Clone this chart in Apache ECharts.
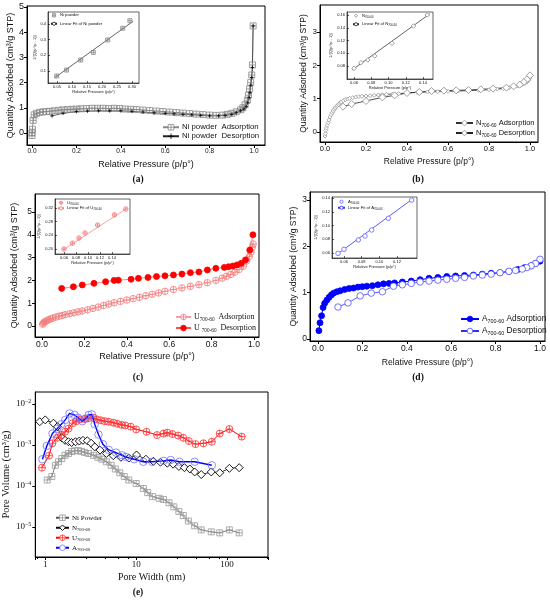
<!DOCTYPE html>
<html>
<head>
<meta charset="utf-8">
<script src="https://cdn.jsdelivr.net/npm/echarts@6/dist/echarts.min.js"></script>
<style>
  html, body { margin: 0; padding: 0; background: #fff; }
  #main { width: 550px; height: 602px; }
</style>
</head>
<body>
<div id="main"></div>
<script>
// ---- data ----
// (a) Ni powder isotherm [p/p0, Q]
var niAds = [[0.0,-0.1],[0.0,0.0],[0.002,0.15],[0.005,0.5],[0.01,0.72],[0.02,0.78],[0.035,0.82],[0.05,0.84],[0.065,0.85],[0.08,0.86],[0.1,0.88],[0.12,0.9],[0.14,0.92],[0.16,0.93],[0.18,0.94],[0.2,0.95],[0.22,0.96],[0.245,0.97],[0.27,0.98],[0.295,0.98],[0.32,0.98],[0.345,0.97],[0.37,0.98],[0.395,0.97],[0.42,0.95],[0.445,0.94],[0.47,0.93],[0.5,0.91],[0.53,0.89],[0.56,0.87],[0.59,0.85],[0.62,0.83],[0.65,0.81],[0.68,0.79],[0.71,0.77],[0.74,0.75],[0.77,0.73],[0.8,0.71],[0.83,0.7],[0.86,0.71],[0.88,0.74],[0.9,0.78],[0.92,0.84],[0.94,0.92],[0.95,1.0],[0.96,1.12],[0.97,1.3],[0.975,1.5],[0.98,1.75],[0.985,2.0],[0.99,2.3],[0.993,2.7],[0.996,4.25]];
var niDes = [[0.996,4.25],[0.993,2.6],[0.99,2.2],[0.986,1.9],[0.982,1.6],[0.978,1.4],[0.972,1.2],[0.965,1.05],[0.955,0.95],[0.94,0.88],[0.92,0.8],[0.9,0.74],[0.87,0.7],[0.84,0.68],[0.8,0.68],[0.76,0.7],[0.72,0.72],[0.68,0.74],[0.64,0.76],[0.6,0.78],[0.55,0.8],[0.5,0.83],[0.45,0.86],[0.4,0.88],[0.35,0.88],[0.3,0.88],[0.25,0.87],[0.2,0.85],[0.14,0.78],[0.09,0.68]];
var niBet = [[0.049,0.068],[0.082,0.106],[0.129,0.17],[0.171,0.219],[0.219,0.298],[0.269,0.373],[0.293,0.421]];
var niFit = [[0.043,0.058],[0.304,0.418]];

// (b) N700-60
var nAds = [[0.0,-0.12],[0.002,-0.05],[0.004,0.05],[0.007,0.12],[0.01,0.2],[0.015,0.28],[0.02,0.36],[0.025,0.45],[0.03,0.52],[0.035,0.58],[0.04,0.63],[0.045,0.68],[0.05,0.72],[0.055,0.76],[0.06,0.79],[0.065,0.82],[0.07,0.85],[0.075,0.88],[0.08,0.9],[0.09,0.94],[0.1,0.97],[0.11,0.99],[0.12,1.01],[0.135,1.03],[0.15,1.05],[0.165,1.06],[0.18,1.07],[0.2,1.08],[0.22,1.09],[0.24,1.1],[0.26,1.11],[0.28,1.12],[0.3,1.13],[0.33,1.14],[0.36,1.15],[0.4,1.17],[0.45,1.19],[0.5,1.2],[0.55,1.21],[0.6,1.22],[0.65,1.23],[0.7,1.24],[0.75,1.25],[0.8,1.27],[0.84,1.29],[0.87,1.3],[0.9,1.33],[0.92,1.35],[0.94,1.38],[0.96,1.42],[0.975,1.46],[0.985,1.5],[0.993,1.55],[1.0,1.62]];
var nDes = [[1.0,1.7],[0.985,1.58],[0.97,1.5],[0.95,1.42],[0.92,1.37],[0.885,1.33],[0.82,1.3],[0.76,1.28],[0.7,1.26],[0.64,1.25],[0.58,1.24],[0.52,1.23],[0.46,1.2],[0.4,1.17],[0.34,1.1],[0.28,1.04],[0.2,0.93],[0.13,0.84],[0.088,0.76]];
var nBet = [[0.06,0.0764],[0.068,0.0852],[0.076,0.0894],[0.084,0.0957],[0.104,0.1156],[0.129,0.1427],[0.145,0.16]];
var nFit = [[0.058,0.074],[0.148,0.162]];

// (c) U700-60
var uAds = [[0.003,0.08],[0.007,0.13],[0.012,0.18],[0.02,0.22],[0.03,0.27],[0.04,0.31],[0.05,0.34],[0.065,0.39],[0.08,0.43],[0.095,0.46],[0.11,0.5],[0.13,0.54],[0.15,0.58],[0.17,0.62],[0.19,0.66],[0.215,0.71],[0.24,0.77],[0.265,0.83],[0.29,0.9],[0.315,0.96],[0.34,1.02],[0.37,1.08],[0.4,1.14],[0.43,1.2],[0.46,1.26],[0.49,1.33],[0.52,1.39],[0.55,1.45],[0.58,1.52],[0.62,1.6],[0.66,1.67],[0.7,1.74],[0.74,1.81],[0.78,1.9],[0.82,2.0],[0.85,2.1],[0.87,2.18],[0.89,2.26],[0.91,2.36],[0.93,2.48],[0.95,2.62],[0.965,2.85],[0.978,3.05],[0.986,3.25],[0.992,3.45],[0.996,3.6]];
var uDes = [[0.995,4.0],[0.98,3.33],[0.96,2.9],[0.94,2.75],[0.92,2.68],[0.9,2.63],[0.88,2.6],[0.86,2.57],[0.82,2.53],[0.78,2.46],[0.74,2.37],[0.7,2.34],[0.66,2.28],[0.62,2.24],[0.58,2.2],[0.54,2.17],[0.5,2.13],[0.455,2.09],[0.42,2.05],[0.36,2.01],[0.34,2.0],[0.3,1.94],[0.245,1.87],[0.19,1.8],[0.148,1.72],[0.093,1.65]];
var uBet = [[0.06,0.2],[0.074,0.217],[0.085,0.232],[0.095,0.247],[0.116,0.27],[0.144,0.3],[0.163,0.317]];
var uFit = [[0.058,0.197],[0.164,0.318]];

// (d) A700-60
var aAds = [[0.004,0.18],[0.009,0.35],[0.016,0.5],[0.023,0.68],[0.03,0.77],[0.04,0.84],[0.05,0.9],[0.06,0.95],[0.07,0.99],[0.085,1.02],[0.1,1.04],[0.12,1.07],[0.14,1.09],[0.16,1.1],[0.18,1.12],[0.2,1.13],[0.22,1.14],[0.245,1.15],[0.27,1.17],[0.295,1.19],[0.32,1.2],[0.345,1.21],[0.38,1.23],[0.42,1.25],[0.46,1.28],[0.5,1.31],[0.54,1.33],[0.58,1.35],[0.62,1.36],[0.66,1.37],[0.7,1.38],[0.74,1.4],[0.78,1.42],[0.82,1.43],[0.86,1.46],[0.9,1.5],[0.93,1.54],[0.96,1.58],[0.98,1.63],[1.0,1.68]];
var aDes = [[1.0,1.72],[0.98,1.63],[0.96,1.58],[0.94,1.54],[0.92,1.51],[0.89,1.48],[0.86,1.46],[0.82,1.43],[0.78,1.4],[0.74,1.38],[0.7,1.36],[0.66,1.33],[0.62,1.31],[0.58,1.29],[0.54,1.27],[0.5,1.25],[0.46,1.23],[0.42,1.2],[0.38,1.17],[0.34,1.14],[0.29,1.02],[0.24,0.99],[0.19,0.93],[0.135,0.78],[0.09,0.69]];
var aBet = [[0.0532,0.0595],[0.06,0.0654],[0.0762,0.079],[0.0838,0.0847],[0.0913,0.0935],[0.1102,0.1105],[0.1366,0.137]];
var aFit = [[0.052,0.058],[0.137,0.138]];

// (e) pore size distribution [width nm, volume cm3/g]
var niPore = [[1.05,1.4e-4],[1.18,1.7e-4],[1.29,3.2e-4],[1.4,3.9e-4],[1.52,4.7e-4],[1.65,5.6e-4],[1.8,6.2e-4],[1.95,6.9e-4],[2.1,7.2e-4],[2.3,7.3e-4],[2.5,7.0e-4],[2.7,6.6e-4],[3.0,6.2e-4],[3.4,5.6e-4],[3.8,5.0e-4],[4.2,4.5e-4],[4.7,3.9e-4],[5.3,3.2e-4],[5.9,2.6e-4],[6.6,2.1e-4],[7.4,1.7e-4],[8.3,1.4e-4],[10,1.15e-4],[12,8.7e-5],[13.4,6.9e-5],[15.1,5.5e-5],[17.9,5.0e-5],[20,4.7e-5],[23,3.9e-5],[26,3.1e-5],[29.5,2.4e-5],[33,1.9e-5],[37.5,1.4e-5],[44,1.07e-5],[52,8.5e-6],[67,7.6e-6],[83,7.2e-6],[106,8.5e-6],[136,7.2e-6]];
var nPore = [[0.87,3.7e-3],[1.0,4.1e-3],[1.23,3.4e-3],[1.36,2.8e-3],[1.52,1.5e-3],[1.65,1.3e-3],[1.8,1.2e-3],[1.95,1.15e-3],[2.15,1.2e-3],[2.37,1.25e-3],[2.6,1.3e-3],[2.9,1.27e-3],[3.2,1.1e-3],[3.5,9e-4],[4.0,7.5e-4],[4.7,6.2e-4],[5.6,5.5e-4],[6.8,5.0e-4],[8.3,4.8e-4],[10.1,5.7e-4],[12.8,4.5e-4],[15.5,4.0e-4],[18.5,3.8e-4],[22,3.6e-4],[25.5,3.4e-4],[29.5,3.0e-4],[34,2.8e-4],[39,2.6e-4],[44,2.2e-4],[52,1.9e-4],[67,2.2e-4],[83,2.1e-4],[106,2.7e-4],[136,2.8e-4]];
var uPore = [[0.92,2.8e-4],[1.1,5.5e-4],[1.2,1.1e-3],[1.35,1.5e-3],[1.5,1.75e-3],[1.65,2.1e-3],[1.8,2.5e-3],[2.0,3.4e-3],[2.2,3.8e-3],[2.4,4.2e-3],[2.7,4.3e-3],[3.0,4.5e-3],[3.4,4.6e-3],[3.7,4.2e-3],[4.1,4.0e-3],[4.5,3.8e-3],[5.0,3.7e-3],[5.6,3.5e-3],[6.2,3.3e-3],[6.9,3.1e-3],[7.6,3.0e-3],[8.7,2.8e-3],[10,2.4e-3],[13,2.1e-3],[17,1.75e-3],[20,1.9e-3],[22,2.0e-3],[25,1.85e-3],[29,1.7e-3],[33,1.5e-3],[38,1.25e-3],[45,1.05e-3],[55,1.1e-3],[68,1.2e-3],[83,1.9e-3],[106,2.45e-3],[145,1.6e-3]];
var aPore = [[0.93,4.5e-4],[1.04,9.5e-4],[1.2,1.9e-3],[1.35,2.5e-3],[1.5,3.2e-3],[1.66,4.1e-3],[1.85,5.9e-3],[2.1,5.4e-3],[2.3,4.6e-3],[2.55,3.8e-3],[2.8,4.4e-3],[3.0,5.4e-3],[3.25,5.6e-3],[3.5,3.2e-3],[3.85,1.8e-3],[4.3,1.05e-3],[5.0,7.6e-4],[6.0,6.5e-4],[7.0,5.6e-4],[7.7,5.1e-4],[9.5,4.5e-4],[12,3.9e-4],[15,3.9e-4],[20,4.1e-4],[24,4.3e-4],[30,3.9e-4],[44,3.9e-4],[68,3.2e-4]];

// tick labels
var pTicks = [0, 0.2, 0.4, 0.6, 0.8, 1.0];
var qTicks5 = [0, 1, 2, 3, 4, 5];
var qTicks3 = [0, 1, 2, 3];
var aInX = [0.05, 0.10, 0.15, 0.20, 0.25, 0.30], aInY = [0.1, 0.2, 0.3, 0.4];
var bInX = [0.06, 0.08, 0.10, 0.12, 0.14], bInY = [0.08, 0.10, 0.12, 0.14, 0.16];
var cInX = [0.06, 0.08, 0.10, 0.12, 0.14], cInY = [0.20, 0.24, 0.28, 0.32];
var dInX = [0.06, 0.08, 0.10, 0.12], dInY = [0.06, 0.08, 0.10, 0.12, 0.14];

// legend texts
var labels = {
  'a-ads': 'Ni powder  Adsorption', 'a-des': 'Ni powder  Desorption',
  'a-in': 'Ni powder', 'a-fit': 'Linear Fit of Ni powder',
  'b-ads': 'N{s|700-60} Adsorption', 'b-des': 'N{s|700-60} Desorption',
  'b-in': 'N{s|700-60}', 'b-fit': 'Linear Fit of N{s|700-60}',
  'c-ads': 'U{s|700-60}  Adsorption', 'c-des': 'U {s|700-60}  Desorption',
  'c-in': 'U{s|700-60}', 'c-fit': 'Linear Fit of U{s|700-60}',
  'd-ads': 'A{s|700-60} Adsorption', 'd-des': 'A{s|700-60} Desorption',
  'd-in': 'A{s|700-60}', 'd-fit': 'Linear Fit of A{s|700-60}',
  'e-ni': 'Ni Powder', 'e-n': 'N{s|700-60}', 'e-u': 'U{s|700-60}', 'e-a': 'A{s|700-60}'
};

var SANS = "'Liberation Sans', Arial, sans-serif";
var SERIF = "'Liberation Serif', 'Times New Roman', serif";
var SQ = 'path://M0,0L10,0L10,10L0,10ZM5,0L5,10M0,5L10,5';     // square with cross
var CI = 'path://M10,5A5,5,0,1,1,0,5A5,5,0,1,1,10,5ZM5,0L5,10M0,5L10,5'; // circle with cross
var CR = 'path://M5,0L5,10M0,5L10,5';
var NONE = 'rgba(255,255,255,0)';

var myChart = echarts.init(document.getElementById('main'));
var grid = [], xAxis = [], yAxis = [], series = [], legend = [];
var marks = {};   // symbol style of each series, reused by the legends

// value at pixel p, from two known pixel/value pairs
function lin(pa, va, pb, vb, p) { return va + (p - pa) * (vb - va) / (pb - pa); }

function axis(o, dir, gi, lo, hi) {
  var r = o[dir + 'Ref'], ticks = o[dir + 'Ticks'], dec = o[dir + 'Dec'];
  var w = o.inset ? 0.6 : 1;
  return {
    type: 'value', gridIndex: gi,
    min: lin(r[0], r[1], r[2], r[3], lo), max: lin(r[0], r[1], r[2], r[3], hi),
    axisLine: { onZero: false, lineStyle: { color: '#000', width: w } },
    axisTick: { customValues: ticks, length: o.inset ? 2 : 3, inside: !!o.inset, lineStyle: { color: '#000', width: w } },
    axisLabel: {
      customValues: ticks, formatter: function (v) { return v.toFixed(dec); },
      fontFamily: o.font, fontSize: o[dir + 'Size'], color: '#111', margin: o[dir + 'Margin']
    },
    splitLine: { show: false },
    name: o[dir + 'Name'], nameLocation: 'middle', nameGap: o[dir + 'Gap'],
    nameTextStyle: { fontFamily: o.font, fontSize: o.nameSize, color: '#111' }
  };
}

function addGrid(o) {
  var b = o.box, gi = grid.length;
  grid.push({ left: b[0], top: b[1], width: b[2] - b[0], height: b[3] - b[1], show: true,
    borderColor: '#000', borderWidth: o.inset ? 0.6 : 1, backgroundColor: '#fff' });
  xAxis.push(axis(o, 'x', gi, b[0], b[2]));
  yAxis.push(axis(o, 'y', gi, b[3], b[1]));
  return gi;
}

function addLine(gi, name, data, o) {
  var item = { color: o.fill || NONE, borderColor: o.stroke || o.line || '#000', borderWidth: o.bw || 0.8 };
  marks[name] = item;
  series.push({
    type: 'line', name: name, data: data, xAxisIndex: gi, yAxisIndex: gi,
    symbol: o.symbol || 'none', symbolSize: o.size || 4, showSymbol: !!o.symbol,
    lineStyle: { color: o.line || '#000', width: o.width == null ? 0.8 : o.width, opacity: o.width === 0 ? 0 : 1 },
    itemStyle: item,
    emphasis: { disabled: true }, silent: true, clip: false, z: o.z || 2
  });
}

function addLegend(names, left, top, font, size, lh, gap, w, h) {
  legend.push({
    data: names.map(function (n) {
      var m = marks[n];
      return { name: n, itemStyle: { color: m.color === NONE ? '#fff' : m.color, borderColor: m.borderColor, borderWidth: m.borderWidth } };
    }),
    orient: 'vertical', left: left, top: top, padding: 0,
    itemWidth: w, itemHeight: h, itemGap: gap, selectedMode: false,
    formatter: function (n) { return labels[n]; },
    textStyle: { fontFamily: font, fontSize: size, color: '#111', lineHeight: lh, padding: [0, 0, 0, -2],
      rich: { s: { fontFamily: font, fontSize: size * 0.65, lineHeight: lh, verticalAlign: 'bottom', color: '#111' } } }
  });
}

var PNAME = 'Relative Pressure (p/p°)', QNAME = 'Quantity Adsorbed (cm³/g STP)', BNAME = '1/[Q(p°/p - 1)]';

// ---- (a) ----
var ga = addGrid({ box: [27, 6, 265, 145], xRef: [32, 0, 254, 1], yRef: [133, 0, 7, 5],
  xTicks: pTicks, yTicks: qTicks5, xDec: 1, yDec: 0, font: SANS, xSize: 6.5, ySize: 9, nameSize: 9,
  xMargin: 3, yMargin: 3, xName: PNAME, yName: QNAME, xGap: 15, yGap: 12 });
addLine(ga, 'a-ads', niAds, { symbol: SQ, size: 6, line: '#888', stroke: '#888', width: 0.8 });
addLine(ga, 'a-des', niDes, { symbol: CR, size: 3.5, line: '#222', stroke: '#000', width: 0.7 });
addLegend(['a-ads', 'a-des'], 162, 123, SANS, 7.8, 8.5, 0.5, 16, 7);
var gai = addGrid({ inset: true, box: [48, 12, 139, 83], xRef: [57, 0.05, 132, 0.30], yRef: [71, 0.1, 24, 0.4],
  xTicks: aInX, yTicks: aInY, xDec: 2, yDec: 1, font: SANS, xSize: 4, ySize: 4, nameSize: 4,
  xMargin: 2, yMargin: 2, xName: PNAME, yName: BNAME, xGap: 6, yGap: 8 });
addLine(gai, 'a-in', niBet, { symbol: SQ, size: 4, line: '#888', stroke: '#888', width: 0 });
addLine(gai, 'a-fit', niFit, { line: '#222', width: 0.7 });
addLegend(['a-in', 'a-fit'], 50, 12.5, SANS, 4.2, 5.5, 3, 6, 4);

// ---- (b) ----
var gb = addGrid({ box: [320, 5, 538, 142], xRef: [325, 0, 530, 1], yRef: [132, 0, 32, 3],
  xTicks: pTicks, yTicks: qTicks3, xDec: 1, yDec: 0, font: SANS, xSize: 7.5, ySize: 8, nameSize: 8.5,
  xMargin: 3, yMargin: 3, xName: PNAME, yName: QNAME, xGap: 15, yGap: 9 });
addLine(gb, 'b-ads', nAds, { symbol: 'diamond', size: 4, fill: '#fff', stroke: '#999', line: '#333', width: 0.8 });
addLine(gb, 'b-des', nDes, { symbol: 'diamond', size: 7, fill: '#fff', stroke: '#888', line: '#222', width: 0.8 });
addLegend(['b-ads', 'b-des'], 455, 118, SANS, 7.5, 10, 0, 17, 7);
var gbi = addGrid({ inset: true, box: [347, 12, 433, 79], xRef: [354, 0.06, 423, 0.14], yRef: [66, 0.08, 15, 0.16],
  xTicks: bInX, yTicks: bInY, xDec: 2, yDec: 2, font: SANS, xSize: 4, ySize: 4, nameSize: 4,
  xMargin: 2, yMargin: 2, xName: PNAME, yName: BNAME, xGap: 6, yGap: 11 });
addLine(gbi, 'b-in', nBet, { symbol: 'diamond', size: 4.5, fill: '#fff', stroke: '#888', line: '#888', width: 0 });
addLine(gbi, 'b-fit', nFit, { line: '#222', width: 0.7 });
addLegend(['b-in', 'b-fit'], 352, 13, SANS, 4.2, 5.5, 3, 6, 4);

// ---- (c) ----
var gc = addGrid({ box: [35, 194, 259, 337], xRef: [42, 0, 254, 1], yRef: [326, 0, 212, 5],
  xTicks: pTicks, yTicks: qTicks5, xDec: 1, yDec: 0, font: SANS, xSize: 8.5, ySize: 8.5, nameSize: 9,
  xMargin: 3, yMargin: 3, xName: PNAME, yName: QNAME, xGap: 15, yGap: 16 });
addLine(gc, 'c-ads', uAds, { symbol: CI, size: 6.5, stroke: '#f47a7a', line: '#f6a0a0', width: 0.7 });
addLine(gc, 'c-des', uDes, { symbol: 'circle', size: 6, fill: '#ff0000', stroke: '#ff0000', line: '#ff5050', width: 0.7 });
addLegend(['c-ads', 'c-des'], 175, 312, SERIF, 8, 10, 1, 15, 7);
var gci = addGrid({ inset: true, box: [55, 199, 130, 254], xRef: [64, 0.06, 112, 0.14], yRef: [249, 0.2, 208, 0.32],
  xTicks: cInX, yTicks: cInY, xDec: 2, yDec: 2, font: SANS, xSize: 4, ySize: 4, nameSize: 4,
  xMargin: 2, yMargin: 2, xName: PNAME, yName: BNAME, xGap: 6, yGap: 11 });
addLine(gci, 'c-in', uBet, { symbol: CI, size: 4.5, stroke: '#f47a7a', line: '#f47a7a', width: 0 });
addLine(gci, 'c-fit', uFit, { line: '#f47a7a', width: 0.7 });
addLegend(['c-in', 'c-fit'], 57, 200, SANS, 4.2, 5.5, 0, 6, 4);

// ---- (d) ----
var gd = addGrid({ box: [310, 192, 545, 341], xRef: [318, 0, 540, 1], yRef: [339, 0, 200, 3],
  xTicks: pTicks, yTicks: qTicks3, xDec: 1, yDec: 0, font: SANS, xSize: 8.5, ySize: 8.5, nameSize: 8.6,
  xMargin: 3, yMargin: 3, xName: PNAME, yName: QNAME, xGap: 17, yGap: 9 });
addLine(gd, 'd-ads', aAds, { symbol: 'circle', size: 6, fill: '#0000ff', stroke: '#0000ff', line: '#0000ff', width: 1 });
addLine(gd, 'd-des', aDes, { symbol: 'circle', size: 6.5, fill: '#fff', stroke: '#5050ff', line: '#3030ff', width: 0.8 });
addLegend(['d-ads', 'd-des'], 460, 314, SANS, 8.3, 10, 2, 18, 7);
var gdi = addGrid({ inset: true, box: [332, 197, 417, 258], xRef: [344, 0.06, 397, 0.12], yRef: [253, 0.06, 198, 0.14],
  xTicks: dInX, yTicks: dInY, xDec: 2, yDec: 2, font: SANS, xSize: 4, ySize: 4, nameSize: 4,
  xMargin: 2, yMargin: 2, xName: PNAME, yName: BNAME, xGap: 6, yGap: 11 });
addLine(gdi, 'd-in', aBet, { symbol: 'circle', size: 4.5, fill: '#fff', stroke: '#6060ff', line: '#6060ff', width: 0 });
addLine(gdi, 'd-fit', aFit, { line: '#3030ff', width: 0.8 });
addLegend(['d-in', 'd-fit'], 337, 199, SANS, 4.2, 5.5, 0.5, 7, 4);

// ---- (e) log-log pore distribution ----
var ge = grid.length;
grid.push({ left: 35, top: 392, width: 233, height: 165, show: true, borderColor: '#000', borderWidth: 1, backgroundColor: '#fff' });
xAxis.push({
  type: 'log', gridIndex: ge,
  min: Math.pow(10, lin(45, 0, 227, 2, 35)), max: Math.pow(10, lin(45, 0, 227, 2, 268)),
  axisLine: { onZero: false, lineStyle: { color: '#000', width: 1 } },
  axisTick: { length: 3, lineStyle: { color: '#000' } },
  axisLabel: { showMinLabel: false, showMaxLabel: false, formatter: function (v) { return String(Math.round(v)); },
    fontFamily: SERIF, fontSize: 9, color: '#111', margin: 3 },
  minorTick: { show: true, length: 2, lineStyle: { color: '#000' } },
  splitLine: { show: false },
  name: 'Pore Width (nm)', nameLocation: 'middle', nameGap: 15,
  nameTextStyle: { fontFamily: SERIF, fontSize: 10, color: '#111' }
});
yAxis.push({
  type: 'log', gridIndex: ge,
  min: Math.pow(10, lin(404, -2, 527, -5, 557)), max: Math.pow(10, lin(404, -2, 527, -5, 392)),
  axisLine: { onZero: false, lineStyle: { color: '#000', width: 1 } },
  axisTick: { length: 3, lineStyle: { color: '#000' } },
  axisLabel: { showMinLabel: false, showMaxLabel: false,
    formatter: function (v) { return '10{e|−' + Math.round(-Math.log10(v)) + '}'; },
    fontFamily: SERIF, fontSize: 9, color: '#111', margin: 4, lineHeight: 12,
    rich: { e: { fontFamily: SERIF, fontSize: 6, lineHeight: 12, verticalAlign: 'top', color: '#111' } } },
  splitLine: { show: false },
  name: 'Pore Volume (cm³/g)', nameLocation: 'middle', nameGap: 22,
  nameTextStyle: { fontFamily: SERIF, fontSize: 10.5, color: '#111' }
});
addLine(ge, 'e-ni', niPore, { symbol: SQ, size: 6, stroke: '#999', line: '#555', width: 0.8 });
addLine(ge, 'e-n', nPore, { symbol: 'diamond', size: 8, fill: '#fff', stroke: '#000', line: '#000', width: 0.8, bw: 0.9 });
addLine(ge, 'e-u', uPore, { symbol: CI, size: 7, stroke: '#ff3030', line: '#ff0000', width: 1 });
addLine(ge, 'e-a', aPore, { symbol: 'circle', size: 7.5, fill: NONE, stroke: '#7070ff', line: '#0000ff', width: 1.4, z: 3 });
addLegend(['e-ni', 'e-n', 'e-u', 'e-a'], 55, 513, SERIF, 7, 9.5, 0.5, 13, 7);

// ---- panel captions ----
var caps = [['(a)', 138, 180], ['(b)', 418, 180], ['(c)', 138, 378], ['(d)', 418, 378], ['(e)', 138, 593]];
var graphic = caps.map(function (c) {
  return { type: 'text', x: c[1], y: c[2], style: { text: c[0], fontFamily: SERIF, fontWeight: 'bold',
    fontSize: 9.5, fill: '#111', align: 'center', verticalAlign: 'middle' } };
});

myChart.setOption({
  animation: false,
  grid: grid, xAxis: xAxis, yAxis: yAxis, series: series, legend: legend, graphic: graphic
});
</script>
</body>
</html>
